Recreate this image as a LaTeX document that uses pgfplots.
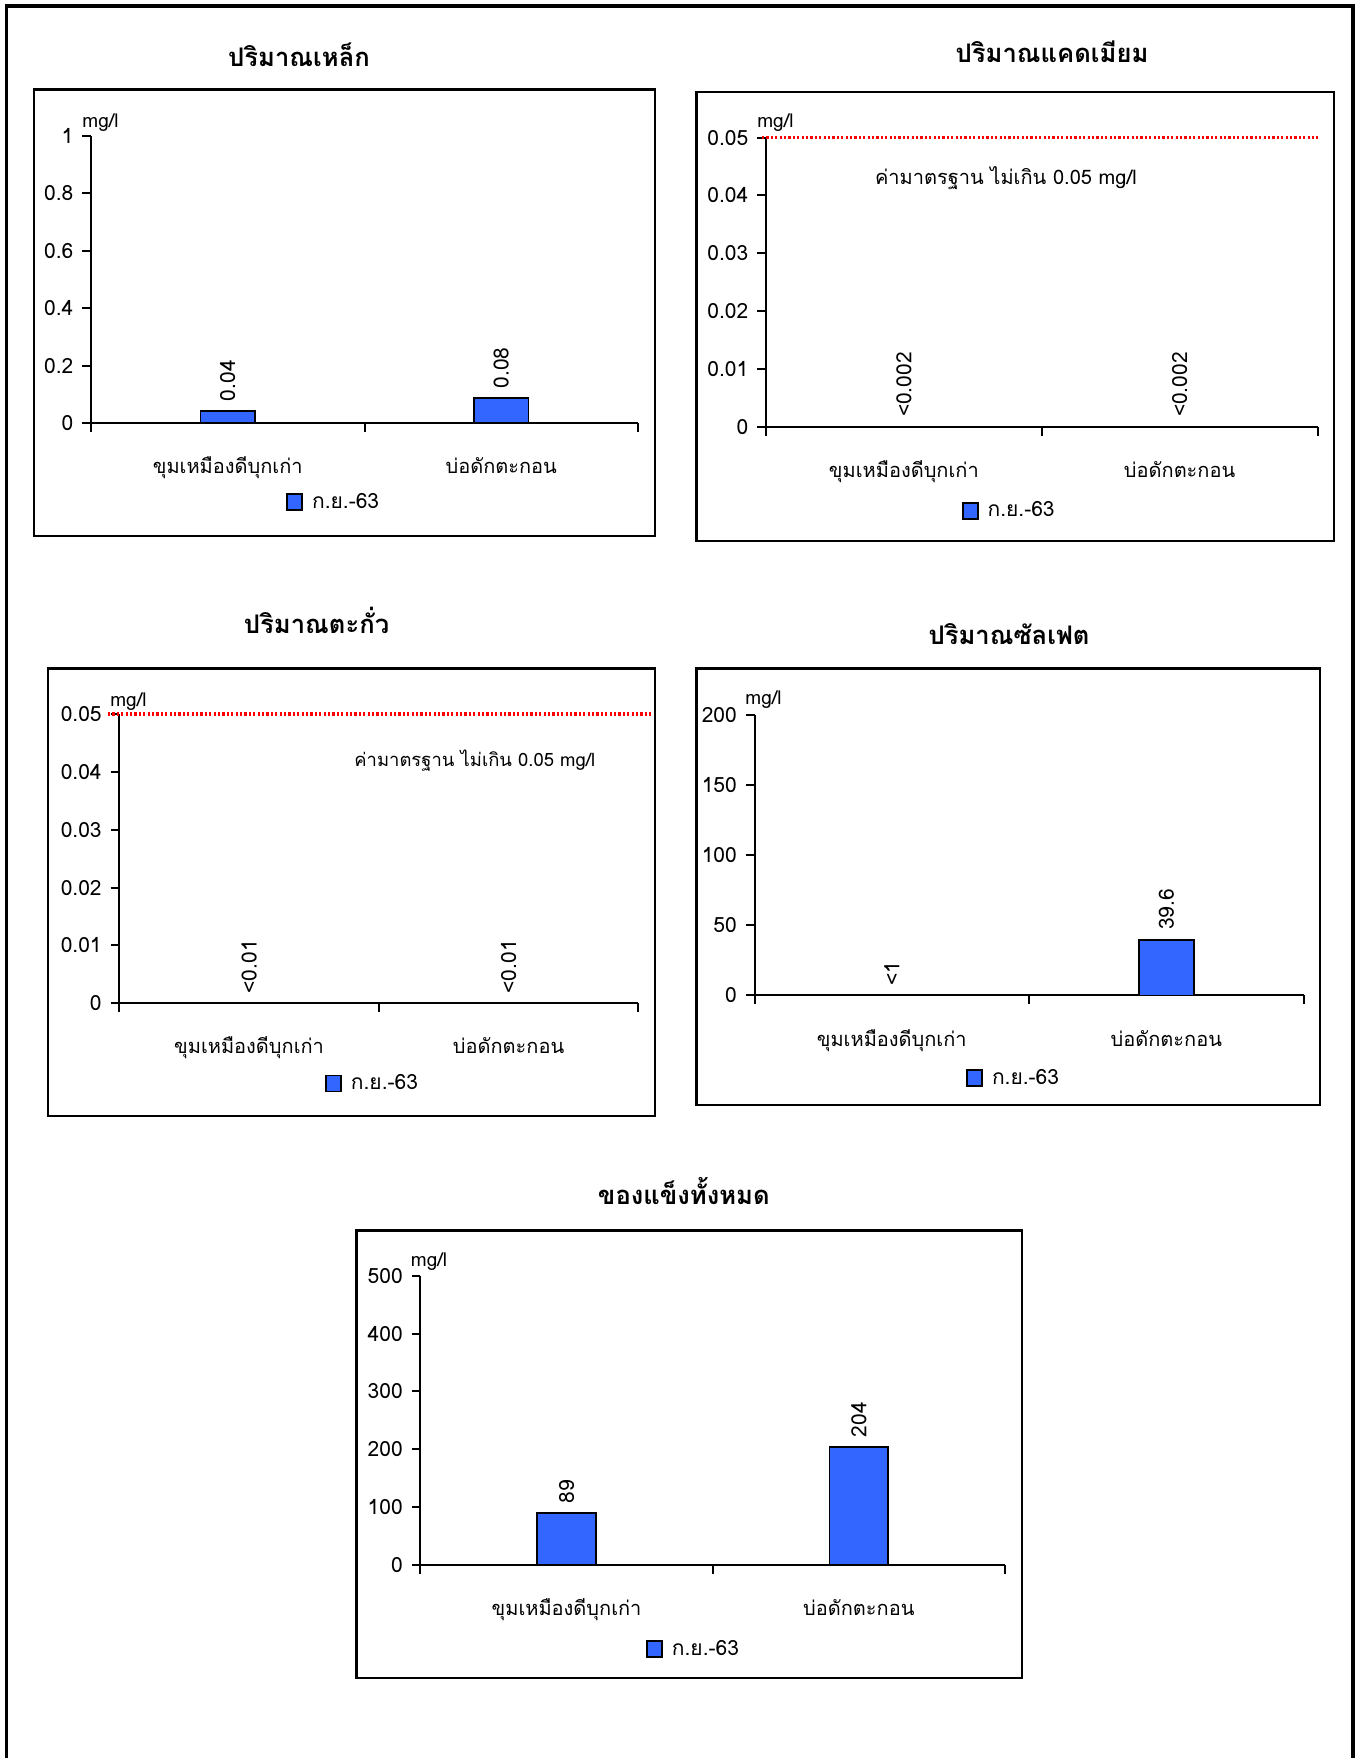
\documentclass[border=0pt]{standalone}
\usepackage{fontspec}
\setmainfont[Script=Thai]{Loma}
\usepackage{pgfplots}
\pgfplotsset{compat=1.18}
\definecolor{barblue}{RGB}{51,102,255}
\newcommand\fs[1]{\fontsize{#1}{#1}\selectfont}

\pgfplotsset{
  chart/.style={
    scale only axis, anchor=south west, clip=false,
    axis lines*=left,
    axis line style={line width=1pt},
    xmin=-0.5, xmax=1.5, ymin=0, enlargelimits=false,
    scaled y ticks=false,
    xtick={0,1}, xticklabels={ขุมเหมืองดีบุกเก่า,บ่อดักตะกอน},
    minor xtick={-0.5,0.5,1.5},
    tick align=outside,
    major tick length=4.3pt, minor tick length=4.5pt,
    major x tick style={draw=none},
    every tick/.style={black, line width=1pt},
    tick label style={font=\fs{10.5}},
    xticklabel style={anchor=base, yshift=-21pt, font=\fs{10}},
    yticklabel style={xshift=-1pt},
    every axis y label/.style={font=\fs{9.5}, anchor=center},
    legend style={draw=none, fill=none, inner sep=0pt, font=\fs{10.5}, anchor=west,
      /tikz/every odd column/.append style={column sep=2.5pt}},
  },
  valbar/.style={ybar, bar width=0.2, fill=barblue, draw=black, line width=0.85pt,
    nodes near coords, point meta=explicit symbolic,
    every node near coord/.append style={rotate=90, anchor=west, inner xsep=4.5pt, inner ysep=0pt, font=\fs{10.5}, black},
    legend image code/.code={\draw[fill=barblue, draw=black, line width=0.85pt] (0pt,-4pt) rectangle (7.5pt,4pt);}},
  limitline/.style={red, line width=1.6pt, dash pattern=on 1.1pt off 1.1pt, forget plot},
}

\begin{document}
\begin{tikzpicture}
\begin{scope}[x=0.5pt,y=-0.5pt]
\useasboundingbox (0,0) rectangle (1359,1758);
\draw[line width=1.8pt] (6.6,1762) -- (6.6,5.7) -- (1353,5.7) -- (1353,1762);
\draw[line width=1.2pt] (33.8,89.3) rectangle (654.8,535.7);
\draw[line width=1.2pt] (696.5,92) rectangle (1334,541);
\draw[line width=1.2pt] (47.7,668.6) rectangle (654.8,1115.7);
\draw[line width=1.2pt] (696.5,668.6) rectangle (1320,1105);
\draw[line width=1.2pt] (356.5,1230.4) rectangle (1021.7,1677.9);
\node[font=\bfseries\fs{12.8}, anchor=base] at (299,66) {ปริมาณเหล็ก};
\node[font=\bfseries\fs{12.8}, anchor=base] at (1052,62.6) {ปริมาณแคดเมียม};
\node[font=\bfseries\fs{12.8}, anchor=base] at (316.6,633.6) {ปริมาณตะกั่ว};
\node[font=\bfseries\fs{12.8}, anchor=base] at (1009,644.3) {ปริมาณซัลเฟต};
\node[font=\bfseries\fs{12.8}, anchor=base] at (683.8,1204.6) {ของแข็งทั้งหมด};
\end{scope}

% Chart 1: iron
\begin{axis}[chart, at={(45.5pt,-211.5pt)}, width=273.5pt, height=143.65pt,
  ymax=1, ytick={0,0.2,0.4,0.6,0.8,1}, yticklabels={0,0.2,0.4,0.6,0.8,1},
  ylabel={mg/l}, ylabel style={at={(axis description cs:0.0174,1.044)}},
  legend style={at={(axis description cs:0.3565,-0.275)}}]
\addplot[valbar] coordinates {(0,0.042) [0.04] (1,0.086) [0.08]};
\addlegendentry{ก.ย.-63}
\end{axis}

% Chart 2: cadmium
\begin{axis}[chart, at={(383pt,-213.4pt)}, width=275.75pt, height=144.65pt,
  ymax=0.05, ytick={0,0.01,0.02,0.03,0.04,0.05}, yticklabels={0,0.01,0.02,0.03,0.04,0.05},
  ylabel={mg/l}, ylabel style={at={(axis description cs:0.0172,1.05)}},
  legend style={at={(axis description cs:0.3545,-0.29)}}]
\addplot[valbar] coordinates {(0,0) [<0.002] (1,0) [<0.002]};
\addlegendentry{ก.ย.-63}
\addplot[limitline] coordinates {(-0.5145,0.05) (1.5,0.05)};
\node[font=\fs{10}] at (axis cs:0.37,0.0429) {ค่ามาตรฐาน ไม่เกิน 0.05 mg/l};
\end{axis}

% Chart 3: lead
\begin{axis}[chart, at={(59.65pt,-501.6pt)}, width=259.5pt, height=144.6pt,
  ymax=0.05, ytick={0,0.01,0.02,0.03,0.04,0.05}, yticklabels={0,0.01,0.02,0.03,0.04,0.05},
  ylabel={mg/l}, ylabel style={at={(axis description cs:0.0177,1.0436)}},
  legend style={at={(axis description cs:0.396,-0.278)}}]
\addplot[valbar] coordinates {(0,0) [<0.01] (1,0) [<0.01]};
\addlegendentry{ก.ย.-63}
\addplot[limitline] coordinates {(-0.5435,0.05) (1.555,0.05)};
\node[font=\fs{9.2}] at (axis cs:0.87,0.042) {ค่ามาตรฐาน ไม่เกิน 0.05 mg/l};
\end{axis}

% Chart 4: sulfate
\begin{axis}[chart, at={(377.25pt,-497.7pt)}, width=274.55pt, height=140.4pt,
  ymax=200, ytick={0,50,100,150,200}, yticklabels={0,50,100,150,200},
  ylabel={mg/l}, ylabel style={at={(axis description cs:0.0164,1.053)}},
  legend style={at={(axis description cs:0.385,-0.294)}}]
\addplot[valbar] coordinates {(0,0) [<1] (1,39.6) [39.6]};
\addlegendentry{ก.ย.-63}
\end{axis}

% Chart 5: total solids
\begin{axis}[chart, at={(210.2pt,-782.3pt)}, width=292.3pt, height=144.3pt,
  ymax=500, ytick={0,100,200,300,400,500}, yticklabels={0,100,200,300,400,500},
  ylabel={mg/l}, ylabel style={at={(axis description cs:0.0147,1.049)}},
  legend style={at={(axis description cs:0.3856,-0.2935)}}]
\addplot[valbar] coordinates {(0,89) [89] (1,204) [204]};
\addlegendentry{ก.ย.-63}
\end{axis}
\end{tikzpicture}
\end{document}
